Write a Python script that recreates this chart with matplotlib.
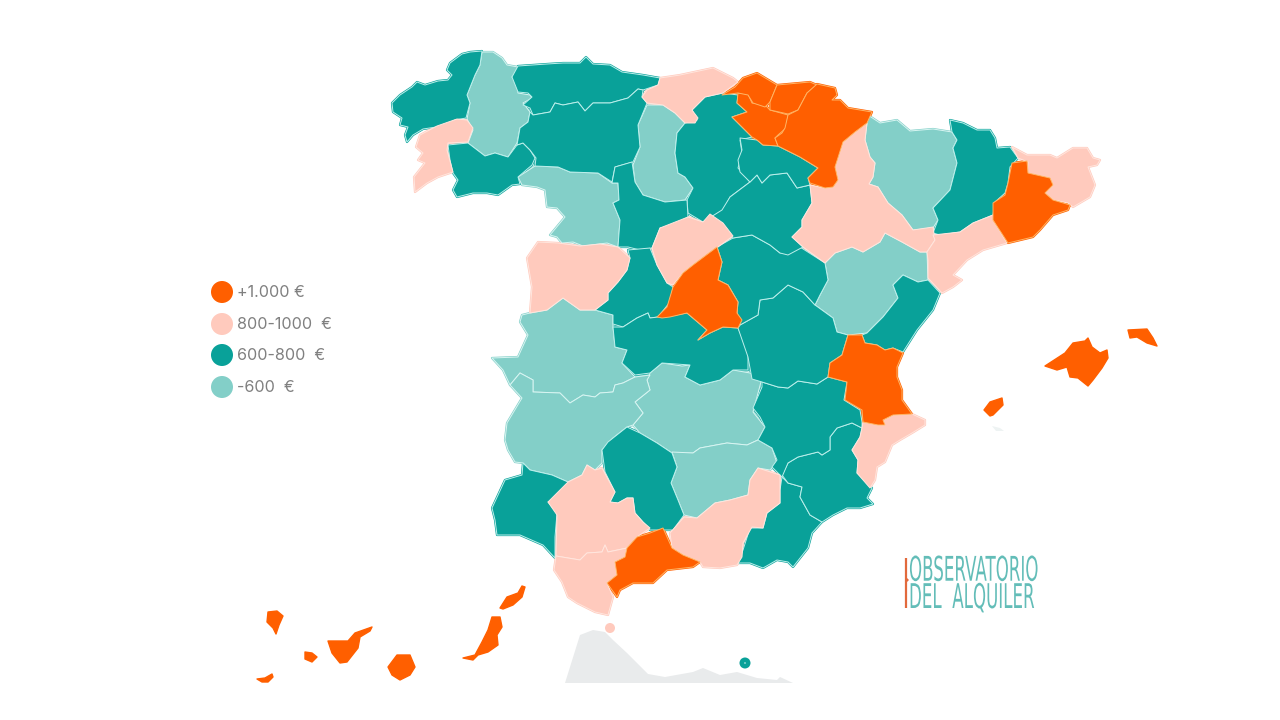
#!/usr/bin/env python3
import matplotlib
matplotlib.use("Agg")
import matplotlib.patheffects as pe
import matplotlib.pyplot as plt
from matplotlib.patches import Circle, Polygon
from matplotlib.transforms import Affine2D

# Outlines, in image pixels
a_coruna = [(392,103),(400,95),(412,87),(417,82),(425,85),(438,81),(448,80),(452,75),(447,70),(450,63),(462,54),(470,52),(482,51),(480,65),(475,75),(467,95),(470,103),(466,118),(455,120),(443,126),(423,129),(413,135),(407,142),(405,135),(408,127),(400,125),(402,118),(393,112)]
lugo = [(482,52),(493,52),(502,58),(507,65),(518,67),(517,72),(512,77),(517,83),(518,93),(530,95),(532,98),(523,103),(530,112),(528,122),(520,128),(517,143),(508,157),(495,153),(485,156),(468,143),(473,130),(467,119),(470,103),(467,95),(475,75),(480,65)]
pontevedra = [(415,192),(414,177),(425,163),(418,160),(423,153),(416,147),(420,135),(437,126),(457,119),(467,120),(473,128),(468,142),(448,143),(447,150),(453,172),(438,177),(427,183)]
ourense = [(448,145),(468,143),(485,156),(495,153),(508,157),(517,145),(523,143),(530,150),(535,158),(532,165),(518,177),(520,184),(512,185),(498,195),(487,193),(473,193),(457,197),(453,190),(458,180),(453,173),(450,160)]
asturias = [(518,66),(547,64),(563,63),(580,63),(586,57),(593,64),(610,65),(622,72),(643,75),(660,78),(658,85),(643,90),(638,89),(628,98),(610,103),(593,103),(585,111),(578,102),(563,105),(555,103),(550,112),(533,115),(530,108),(523,105),(532,97),(528,93),(518,92),(512,77)]
leon = [(533,115),(550,112),(555,103),(563,105),(578,102),(585,111),(593,103),(610,103),(628,98),(638,89),(643,90),(642,97),(647,103),(638,125),(640,147),(633,162),(615,167),(612,182),(598,173),(570,172),(558,167),(535,166),(536,158),(530,150),(523,143),(517,145),(520,128),(528,122),(530,112)]
zamora = [(518,177),(535,166),(558,167),(570,172),(598,173),(612,183),(618,183),(619,200),(613,203),(620,220),(618,247),(607,243),(583,246),(573,242),(562,243),(557,237),(550,235),(565,217),(557,208),(547,207),(545,190),(537,187),(522,185)]
palencia = [(647,105),(663,105),(675,113),(685,123),(677,133),(675,153),(678,173),(685,177),(693,188),(685,200),(665,202),(643,195),(635,182),(633,165),(640,147),(638,125)]
cantabria = [(660,78),(680,75),(713,68),(733,78),(738,82),(723,93),(705,97),(692,110),(698,118),(695,123),(685,123),(675,113),(663,105),(647,103),(642,97),(647,90),(658,85)]
burgos = [(705,97),(723,93),(738,95),(737,103),(747,112),(732,117),(743,128),(752,137),(740,140),(742,153),(738,168),(750,182),(730,197),(722,213),(703,222),(688,213),(687,200),(693,188),(685,177),(678,173),(675,153),(677,133),(685,123),(697,120),(692,110)]
valladolid = [(615,167),(632,162),(635,182),(643,195),(665,202),(687,200),(688,217),(673,225),(660,228),(652,248),(640,250),(628,247),(618,247),(620,220),(613,203),(619,200),(618,183),(612,183)]
segovia = [(652,248),(660,228),(688,217),(703,222),(710,214),(723,223),(733,236),(718,247),(705,257),(693,265),(683,273),(673,285),(667,283),(657,265)]
salamanca = [(527,258),(538,242),(558,243),(580,246),(600,244),(618,247),(630,258),(627,270),(618,282),(608,293),(608,300),(595,310),(580,310),(563,298),(547,310),(530,313),(532,287)]
avila = [(628,250),(650,248),(657,265),(667,283),(673,287),(670,302),(658,317),(650,318),(648,313),(637,318),(623,327),(613,324),(613,315),(595,310),(608,300),(608,293),(618,282),(627,270),(630,258)]
madrid = [(717,247),(722,262),(718,280),(728,285),(738,302),(737,313),(742,320),(738,328),(723,327),(710,333),(698,340),(707,330),(687,313),(670,317),(662,318),(657,317),(667,307),(673,287),(683,273),(693,265)]
caceres = [(522,315),(530,313),(547,310),(563,298),(580,310),(595,310),(613,315),(613,327),(615,347),(627,350),(622,363),(635,377),(623,383),(615,385),(613,392),(600,393),(595,397),(583,395),(570,403),(560,393),(533,392),(533,380),(520,373),(510,385),(503,370),(492,358),(518,357),(528,335),(520,322)]
toledo = [(613,327),(623,327),(637,318),(648,313),(650,318),(658,317),(670,316),(687,313),(707,330),(698,340),(710,333),(723,327),(738,328),(748,350),(748,370),(733,370),(720,380),(700,385),(685,377),(690,365),(662,363),(650,373),(635,375),(622,363),(627,350),(615,347)]
ciudad_real = [(650,373),(662,363),(682,366),(690,365),(685,377),(700,385),(720,380),(733,370),(750,373),(762,378),(753,412),(765,427),(758,440),(747,445),(727,443),(700,448),(693,453),(672,453),(657,443),(640,433),(633,425),(643,413),(635,402),(650,390),(647,380)]
badajoz = [(510,385),(520,373),(533,380),(533,392),(560,393),(570,403),(583,395),(595,397),(600,393),(613,392),(615,385),(623,383),(635,377),(650,375),(647,380),(650,390),(635,402),(643,413),(633,425),(627,427),(613,438),(602,450),(602,463),(595,470),(587,465),(582,475),(568,482),(552,475),(530,470),(523,463),(515,462),(508,450),(505,440),(507,423),(522,398)]
cordoba = [(627,427),(640,433),(657,443),(672,453),(677,467),(671,483),(678,500),(684,515),(673,530),(663,530),(650,530),(643,522),(635,513),(633,498),(627,498),(618,503),(610,502),(615,492),(605,472),(602,450),(608,442)]
jaen = [(672,452),(693,453),(700,448),(727,443),(747,445),(758,440),(772,448),(777,463),(770,470),(758,468),(750,480),(748,495),(730,500),(715,503),(697,518),(684,515),(678,500),(671,483),(677,467)]
huelva = [(523,463),(530,470),(552,475),(568,482),(569,492),(548,502),(557,513),(555,537),(555,558),(543,545),(520,535),(497,535),(495,520),(492,508),(505,480),(522,475)]
sevilla = [(568,482),(582,475),(587,465),(595,470),(602,468),(615,492),(610,502),(618,503),(627,498),(633,498),(635,513),(643,522),(650,528),(637,537),(627,548),(608,552),(605,545),(602,552),(587,553),(580,560),(556,556),(557,515),(548,502)]
cadiz = [(556,556),(580,560),(587,553),(602,552),(605,545),(608,552),(627,548),(625,557),(615,562),(617,575),(607,583),(613,597),(608,615),(595,612),(577,603),(568,597),(562,582),(554,570)]
malaga = [(637,537),(650,533),(663,528),(672,548),(683,555),(700,562),(693,567),(667,570),(653,583),(633,583),(620,590),(617,597),(607,583),(617,575),(615,562),(625,557),(627,548)]
granada = [(697,518),(715,503),(730,500),(748,495),(750,480),(758,468),(780,475),(780,503),(767,513),(763,528),(752,527),(743,543),(742,557),(737,565),(720,568),(703,567),(700,562),(683,555),(672,548),(670,533),(684,517)]
almeria = [(782,477),(788,483),(802,487),(800,497),(810,515),(822,522),(812,533),(808,548),(793,567),(788,562),(777,560),(763,568),(750,563),(738,563),(743,550),(750,528),(763,528),(767,513),(780,503),(780,490)]
murcia = [(782,475),(788,463),(798,457),(818,452),(822,455),(830,450),(830,437),(837,428),(852,423),(862,428),(860,437),(852,450),(858,460),(857,473),(872,488),(867,498),(873,504),(860,508),(847,508),(833,515),(822,522),(810,515),(800,497),(802,487),(788,483)]
albacete = [(762,382),(778,387),(788,388),(798,381),(817,384),(828,377),(847,382),(844,400),(860,410),(862,422),(862,428),(852,423),(837,428),(830,437),(830,450),(822,455),(818,452),(798,457),(788,463),(782,477),(772,467),(777,460),(772,448),(758,440),(765,427),(760,417),(753,408),(762,387)]
cuenca = [(740,325),(758,315),(760,300),(773,298),(788,285),(803,292),(815,305),(833,318),(837,332),(848,335),(842,355),(830,363),(828,377),(817,384),(798,381),(788,388),(778,387),(762,382),(752,379),(748,357),(738,328)]
guadalajara = [(733,238),(752,235),(770,245),(780,253),(800,247),(825,263),(828,280),(820,295),(815,305),(803,292),(788,285),(773,298),(760,300),(758,315),(740,325),(737,313),(738,302),(728,285),(718,280),(722,262),(717,247)]
soria = [(722,210),(730,197),(750,182),(757,175),(762,183),(770,175),(787,173),(797,188),(810,185),(812,203),(802,220),(802,227),(792,237),(803,247),(788,255),(780,253),(770,245),(752,235),(733,238),(722,232),(703,222)]
la_rioja = [(740,138),(757,140),(763,145),(778,146),(800,157),(818,168),(808,178),(810,185),(797,188),(787,173),(770,175),(762,183),(757,175),(750,182),(740,172),(738,160),(742,150)]
alava = [(738,93),(748,94),(752,103),(765,105),(770,110),(788,115),(786,128),(778,135),(775,138),(778,146),(763,145),(757,140),(752,137),(743,128),(732,117),(747,112),(737,103)]
vizcaya = [(722,95),(735,87),(743,78),(757,73),(777,85),(770,102),(765,107),(753,103),(748,95),(738,93)]
gipuzkoa = [(777,85),(810,82),(817,85),(807,93),(798,110),(788,114),(770,110),(770,102)]
navarra = [(817,84),(835,88),(837,95),(832,100),(840,100),(848,108),(872,112),(867,123),(855,132),(843,142),(835,167),(838,180),(833,187),(825,188),(810,183),(808,178),(818,168),(800,157),(778,146),(775,138),(782,133),(785,128),(788,115),(798,110),(807,93)]
zaragoza = [(867,123),(865,140),(870,157),(875,163),(873,177),(869,184),(878,187),(888,203),(902,215),(913,230),(933,227),(935,240),(927,252),(920,252),(902,242),(885,233),(880,242),(863,252),(852,247),(835,253),(825,263),(803,247),(792,237),(802,227),(802,220),(812,203),(810,185),(825,188),(833,187),(838,180),(835,167),(843,142),(855,132)]
huesca = [(868,115),(880,123),(897,120),(910,131),(933,129),(952,132),(957,140),(953,148),(957,163),(950,190),(933,208),(938,220),(933,228),(913,230),(902,215),(888,203),(878,187),(869,184),(873,177),(875,163),(870,157),(865,140)]
lleida = [(950,120),(963,123),(977,130),(990,130),(995,138),(997,148),(1010,147),(1018,158),(1010,167),(1008,183),(1005,193),(995,202),(993,215),(973,223),(960,232),(940,235),(933,233),(938,220),(933,208),(950,190),(957,163),(953,148),(957,140),(952,132)]
girona = [(1012,147),(1027,155),(1050,155),(1057,158),(1073,148),(1087,148),(1093,158),(1100,160),(1097,165),(1088,167),(1095,185),(1090,197),(1073,207),(1068,203),(1053,200),(1045,193),(1053,185),(1050,178),(1027,173),(1028,162),(1018,158)]
barcelona = [(1012,163),(1027,161),(1028,173),(1050,178),(1053,185),(1045,193),(1053,200),(1070,205),(1068,210),(1053,215),(1040,230),(1033,237),(1008,243),(993,220),(993,203),(1005,195),(1008,183)]
tarragona = [(933,235),(960,232),(973,223),(993,215),(995,223),(1007,243),(983,250),(967,260),(953,275),(962,280),(953,287),(942,293),(928,278),(928,260),(927,252),(935,240)]
teruel = [(825,263),(835,253),(852,247),(863,252),(880,242),(885,233),(902,242),(920,252),(927,252),(928,280),(918,282),(903,275),(893,285),(898,298),(883,317),(867,333),(848,335),(837,332),(833,318),(815,305),(820,295),(828,280)]
castellon = [(867,333),(883,317),(898,298),(893,285),(903,275),(918,282),(928,280),(940,293),(933,310),(917,330),(903,352),(893,348),(885,350),(877,345),(865,343),(862,335)]
valencia = [(848,335),(862,335),(865,343),(877,345),(885,350),(893,348),(903,353),(897,367),(897,377),(902,390),(902,400),(912,414),(893,415),(883,420),(885,425),(878,425),(863,422),(862,410),(845,400),(847,382),(828,377),(830,363),(842,355)]
alicante = [(863,422),(878,425),(885,425),(883,420),(893,415),(912,414),(925,420),(925,425),(912,433),(900,440),(892,445),(885,462),(877,467),(875,480),(870,488),(857,473),(858,460),(852,450),(860,437),(862,428)]
la_palma = [(268,612),(277,611),(283,616),(279,625),(276,634),(273,628),(267,622)]
gomera = [(305,652),(312,653),(317,657),(312,662),(305,659)]
hierro = [(257,679),(265,678),(272,674),(273,677),(268,682),(262,682)]
tenerife = [(328,641),(348,641),(355,633),(372,627),(370,631),(360,637),(358,648),(347,662),(340,663),(332,653)]
gran_canaria = [(397,655),(410,655),(415,667),(410,675),(400,680),(392,675),(388,667)]
fuerteventura = [(492,617),(500,617),(502,627),(497,635),(498,645),(488,652),(478,655),(473,660),(463,658),(475,655),(482,642),(488,630)]
lanzarote = [(500,608),(507,597),(518,593),(522,586),(525,587),(522,597),(513,605),(503,609)]
mallorca = [(1045,366),(1065,353),(1073,343),(1085,341),(1088,338),(1092,347),(1100,353),(1107,350),(1108,358),(1102,368),(1093,380),(1088,386),(1078,378),(1070,377),(1067,367),(1057,370)]
menorca = [(1128,330),(1147,329),(1153,338),(1157,346),(1147,343),(1137,337),(1130,338)]
ibiza = [(984,410),(990,402),(1002,398),(1003,405),(993,415),(990,416)]
formentera = [(992,426),(1000,428),(1004,431),(996,431)]
morocco = [(565,683),(580,635),(593,630),(605,632),(613,640),(627,653),(648,674),(665,677),(693,672),(703,668),(720,675),(737,672),(757,678),(777,680),(780,677),(793,683),(807,683)]

# Rent band of each province: 0 = +1.000, 1 = 800-1000, 2 = 600-800, 3 = -600
band_top = [madrid, alava, vizcaya, gipuzkoa, navarra, barcelona, valencia, malaga]
band_top_islands = [la_palma, gomera, hierro, tenerife, gran_canaria, fuerteventura, lanzarote,
                    mallorca, menorca, ibiza]
band_high = [pontevedra, cantabria, segovia, salamanca, sevilla, cadiz, granada,
             zaragoza, girona, tarragona, alicante]
band_mid = [a_coruna, ourense, asturias, leon, burgos, valladolid, avila, toledo, cordoba,
            huelva, almeria, murcia, albacete, cuenca, guadalajara, soria, la_rioja,
            lleida, castellon]
band_low = [lugo, zamora, palencia, caceres, ciudad_real, badajoz, jaen, huesca, teruel]

legend_labels = ["+1.000 €", "800-1000  €", "600-800  €", "-600  €"]
band_colors = ["#FF5F00", "#FFCABD", "#09A199", "#83CFC8"]
band_edges = ["#FFB565", "#FFE6DE", "#BDF0EC", "#D8F5F2"]
legend_y = [292, 324, 355, 387]


class SqueezeX(pe.AbstractPathEffect):
    """Narrow a text horizontally about x0, no condensed thin font is installed."""

    def __init__(self, sx, x0):
        super().__init__()
        self.sx = sx
        self.x0 = x0

    def draw_path(self, renderer, gc, tpath, affine, rgbFace=None):
        squeeze = Affine2D().translate(-self.x0, 0).scale(self.sx, 1).translate(self.x0, 0)
        renderer.draw_path(gc, tpath, affine + squeeze, rgbFace)


fig = plt.figure(figsize=(12.8, 7.2), dpi=100)
ax = fig.add_axes([0, 0, 1, 1])
ax.set_xlim(0, 1280)
ax.set_ylim(720, 0)
ax.axis("off")

ax.add_patch(Polygon(morocco, closed=True, fc="#E9EBEC", ec="none"))
ax.add_patch(Polygon(formentera, closed=True, fc="#EEF3F3", ec="none"))

bands = [(3, band_low), (2, band_mid), (1, band_high), (0, band_top)]

# same colour stroke underneath, closes the small gaps between neighbours
for band, shapes in bands:
    for shape in shapes:
        ax.add_patch(Polygon(shape, closed=True, fc=band_colors[band], ec=band_colors[band],
                             lw=1.6, joinstyle="round"))

# orange last so that its border stays on top of the neighbours
for band, shapes in bands:
    for shape in shapes:
        ax.add_patch(Polygon(shape, closed=True, fc=band_colors[band], ec=band_edges[band],
                             lw=0.7, joinstyle="round"))

for shape in band_top_islands:
    ax.add_patch(Polygon(shape, closed=True, fc=band_colors[0], ec=band_colors[0],
                         lw=1.0, joinstyle="round"))

ax.add_patch(Circle((610, 628), 5, fc="#FFCABD", ec="none"))
ax.add_patch(Circle((745, 663), 5.5, fc="#09A199", ec="none"))
ax.add_patch(Circle((745, 663), 0.8, fc="#BDF0EC", ec="none"))

for i, label in enumerate(legend_labels):
    ax.add_patch(Circle((222, legend_y[i]), 11, fc=band_colors[i], ec="none"))
    ax.text(237, legend_y[i] + 0.5, label, fontsize=11.6, color="#808080", family="Inter",
            va="center", ha="left")

# logo
logo_x = 909
ax.plot([905.5, 905.5], [558, 608], color="#E2693C", lw=1.6, solid_capstyle="butt")
ax.add_patch(Polygon([(906, 577), (909, 580), (906, 583)], closed=True, fc="#E2693C", ec="none"))
ax.text(logo_x, 608, "OBSERVATORIO\nDEL  ALQUILER", fontsize=24.5, color="#63BDB8",
        family="Liberation Sans Narrow", va="baseline", ha="left", linespacing=0.78,
        path_effects=[SqueezeX(0.49, logo_x)])

fig.savefig("out.png", dpi=100)
